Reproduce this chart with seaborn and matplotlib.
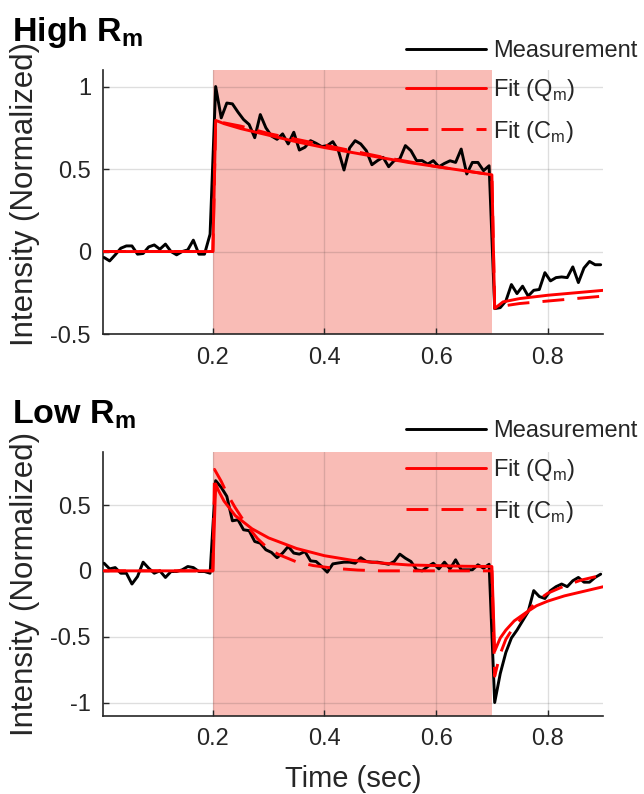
import numpy as np
import pandas as pd
import matplotlib
matplotlib.use("Agg")
import matplotlib.pyplot as plt
import seaborn as sns

# ---------------- data ----------------
time = np.round(0.005 + 0.01 * np.arange(90), 3)

high_meas = [
    -0.036, -0.057, -0.02, 0.02, 0.034, 0.034, -0.016, -0.012, 0.028, 0.04,
    0.014, 0.045, 0.0, -0.02, 0.0, 0.01, 0.069, -0.016, -0.016, 0.105,
    1.0, 0.81, 0.90, 0.895, 0.845, 0.80, 0.77, 0.69, 0.83, 0.75,
    0.70, 0.68, 0.713, 0.652, 0.723, 0.615, 0.632, 0.672, 0.656, 0.636,
    0.642, 0.666, 0.611, 0.494, 0.628, 0.672, 0.652, 0.611, 0.526, 0.551,
    0.571, 0.514, 0.551, 0.561, 0.642, 0.611, 0.551, 0.551, 0.530, 0.551,
    0.514, 0.534, 0.55, 0.54, 0.621, 0.47, 0.54, 0.54, 0.49, 0.52,
    -0.346, -0.34, -0.30, -0.20, -0.255, -0.21, -0.27, -0.235, -0.23, -0.128,
    -0.178, -0.158, -0.154, -0.158, -0.093, -0.188, -0.10, -0.06, -0.08, -0.08,
]
high_q_t = [0.005, 0.2, 0.205, 0.22, 0.25, 0.3, 0.35, 0.4, 0.45, 0.5, 0.55, 0.6, 0.65, 0.7,
            0.705, 0.72, 0.75, 0.8, 0.85, 0.9]
high_q_y = [0, 0, 0.795, 0.775, 0.745, 0.705, 0.665, 0.63, 0.60, 0.57, 0.54, 0.515, 0.49, 0.465,
            -0.345, -0.305, -0.285, -0.265, -0.25, -0.235]
high_c_t = [0.005, 0.2, 0.205, 0.22, 0.25, 0.3, 0.35, 0.4, 0.45, 0.5, 0.55, 0.6, 0.65, 0.7,
            0.705, 0.72, 0.75, 0.8, 0.85, 0.9]
high_c_y = [0, 0, 0.78, 0.78, 0.76, 0.715, 0.68, 0.645, 0.61, 0.575, 0.545, 0.515, 0.49, 0.465,
            -0.34, -0.33, -0.315, -0.30, -0.285, -0.27]

low_meas = [
    0.058, 0.015, 0.025, -0.018, -0.018, -0.10, -0.043, 0.066, 0.02, -0.018,
    0.0, -0.05, -0.005, -0.005, 0.008, 0.033, 0.025, -0.005, -0.005, -0.018,
    0.685, 0.634, 0.566, 0.38, 0.388, 0.312, 0.305, 0.223, 0.21, 0.16,
    0.14, 0.10, 0.135, 0.185, 0.135, 0.127, 0.147, 0.076, 0.071, 0.033,
    -0.01, 0.053, 0.06, 0.066, 0.066, 0.058, 0.10, 0.071, 0.066, 0.066,
    0.058, 0.05, 0.071, 0.127, 0.096, 0.071, 0.008, 0.0, 0.033, 0.058,
    0.015, 0.066, 0.015, 0.084, 0.008, 0.008, 0.008, 0.046, 0.02, 0.05,
    -1.0, -0.78, -0.62, -0.51, -0.45, -0.38, -0.31, -0.15, -0.195, -0.21,
    -0.15, -0.12, -0.10, -0.12, -0.075, -0.05, -0.086, -0.086, -0.05, -0.025,
]
low_q_t = [0.005, 0.2, 0.205, 0.21, 0.22, 0.24, 0.27, 0.3, 0.35, 0.4, 0.45, 0.5, 0.55, 0.6, 0.65, 0.7,
           0.705, 0.715, 0.725, 0.74, 0.76, 0.78, 0.8, 0.83, 0.86, 0.9]
low_q_y = [0, 0, 0.66, 0.61, 0.53, 0.42, 0.32, 0.25, 0.17, 0.115, 0.08, 0.06, 0.045, 0.04, 0.035, 0.033,
           -0.61, -0.51, -0.45, -0.38, -0.32, -0.265, -0.23, -0.19, -0.16, -0.12]
low_c_t = [0.005, 0.2, 0.203, 0.215, 0.225, 0.24, 0.26, 0.28, 0.3, 0.32, 0.35, 0.38, 0.42, 0.46, 0.5, 0.7,
           0.705, 0.715, 0.725, 0.74, 0.76, 0.78, 0.8, 0.83, 0.86, 0.9]
low_c_y = [0, 0, 0.77, 0.68, 0.59, 0.48, 0.35, 0.245, 0.165, 0.12, 0.068, 0.04, 0.018, 0.006, 0.0, 0.0,
           -0.80, -0.63, -0.52, -0.42, -0.33, -0.23, -0.17, -0.115, -0.07, -0.03]

x_ticks = [0.2, 0.4, 0.6, 0.8]
x_ticklabels = ["0.2", "0.4", "0.6", "0.8"]
high_yticks = [-0.5, 0, 0.5, 1]
high_yticklabels = ["-0.5", "0", "0.5", "1"]
low_yticks = [-1, -0.5, 0, 0.5]
low_yticklabels = ["-1", "-0.5", "0", "0.5"]

labels = ["Measurement", r"Fit (Q$_{\mathregular{m}}$)", r"Fit (C$_{\mathregular{m}}$)"]

# ---------------- style ----------------
sns.set_theme(style="white")
plt.rcParams["font.family"] = ["Liberation Sans", "DejaVu Sans"]
plt.rcParams["axes.unicode_minus"] = False
plt.rcParams["mathtext.fontset"] = "custom"
plt.rcParams["mathtext.rm"] = "Liberation Sans"
plt.rcParams["mathtext.bf"] = "Liberation Sans:bold"

SHADE = "#F9BCB6"
AXC = "#262626"

fig = plt.figure(figsize=(6.44, 7.94), dpi=100)
ax1 = fig.add_axes([0.1607, 0.5793, 0.7764, 0.3325])
ax2 = fig.add_axes([0.1607, 0.0986, 0.7764, 0.3317])


def draw(ax, meas, qt, qy, ct, cy, ylim, yticks, yticklabels, leg_top, ylab_y):
    ax.axvspan(0.2, 0.7, color=SHADE, zorder=1, lw=0)
    sns.lineplot(x=time, y=meas, ax=ax, color="black", lw=2.1, label=labels[0],
                 estimator=None, sort=False, zorder=3)
    sns.lineplot(x=qt, y=qy, ax=ax, color="red", lw=2.1, label=labels[1],
                 estimator=None, sort=False, zorder=4)
    sns.lineplot(x=ct, y=cy, ax=ax, color="red", lw=2.1, linestyle=(0, (7.5, 4.5)),
                 label=labels[2], estimator=None, sort=False, zorder=4)
    ax.set_xlim(0.004, 0.9)
    ax.set_ylim(*ylim)
    ax.set_xticks(x_ticks)
    ax.set_xticklabels(x_ticklabels)
    ax.set_yticks(yticks)
    ax.set_yticklabels(yticklabels)
    ax.set_axisbelow("line")
    ax.grid(True, color=(0.15, 0.15, 0.15), alpha=0.15, lw=1.0)
    for s in ["top", "right"]:
        ax.spines[s].set_visible(False)
    for s in ["left", "bottom"]:
        ax.spines[s].set_color(AXC)
        ax.spines[s].set_linewidth(1.2)
    ax.tick_params(direction="in", length=4, width=1, color=AXC, labelsize=17,
                   pad=9, labelcolor=AXC, left=True, bottom=True)
    ax.set_ylabel("Intensity (Normalized)", fontsize=22.5, color=AXC)
    ax.yaxis.set_label_coords(-0.127, ylab_y)
    ax.set_xlabel("")
    ax.legend(loc="upper left", bbox_to_anchor=(406 / 644, 1 - leg_top / 794),
              bbox_transform=fig.transFigure, frameon=False, fontsize=17,
              handlelength=3.4, handletextpad=0.3, labelspacing=0.65,
              borderpad=0, borderaxespad=0)


draw(ax1, high_meas, high_q_t, high_q_y, high_c_t, high_c_y, (-0.5, 1.1),
     high_yticks, high_yticklabels, 40, 0.53)
draw(ax2, low_meas, low_q_t, low_q_y, low_c_t, low_c_y, (-1.1, 0.9),
     low_yticks, low_yticklabels, 420, 0.5)
ax2.set_xlabel("Time (sec)", fontsize=21, color=AXC, labelpad=11)

fig.text(12 / 644, 1 - 41 / 794, r"High R$_\mathbf{m}$", fontsize=24.5, fontweight="bold",
         va="baseline", ha="left", color="black")
fig.text(12 / 644, 1 - 423 / 794, r"Low R$_\mathbf{m}$", fontsize=24.5, fontweight="bold",
         va="baseline", ha="left", color="black")

fig.savefig("out.png", dpi=100)
